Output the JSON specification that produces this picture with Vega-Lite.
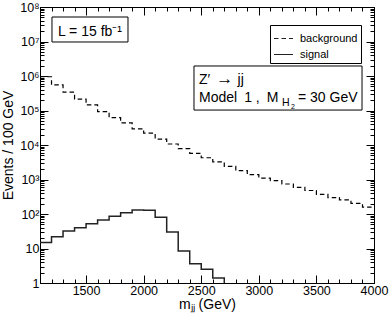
{
  "$schema": "https://vega.github.io/schema/vega-lite/v6.json",
  "width": 334,
  "height": 276,
  "autosize": "none",
  "padding": {"left": 40, "top": 7, "right": 16, "bottom": 39},
  "background": "white",
  "config": {
    "font": "Liberation Sans",
    "view": {"stroke": "#000", "strokeWidth": 1},
    "axis": {"domainColor": "#000", "tickColor": "#000", "labelColor": "#000", "titleColor": "#000", "labelFontSize": 12.5, "titleFontSize": 14, "titleFontWeight": "normal", "grid": false, "labelFlush": false, "labelOverlap": false, "tickWidth": 1}
  },
  "datasets": {
    "hist": [
      {"m": 1100, "events": 950000, "series": "background"},
      {"m": 1200, "events": 550000, "series": "background"},
      {"m": 1300, "events": 339000, "series": "background"},
      {"m": 1400, "events": 214000, "series": "background"},
      {"m": 1500, "events": 145000, "series": "background"},
      {"m": 1600, "events": 93000, "series": "background"},
      {"m": 1700, "events": 62000, "series": "background"},
      {"m": 1800, "events": 44000, "series": "background"},
      {"m": 1900, "events": 29500, "series": "background"},
      {"m": 2000, "events": 22000, "series": "background"},
      {"m": 2100, "events": 14800, "series": "background"},
      {"m": 2200, "events": 10700, "series": "background"},
      {"m": 2300, "events": 7800, "series": "background"},
      {"m": 2400, "events": 5750, "series": "background"},
      {"m": 2500, "events": 4270, "series": "background"},
      {"m": 2600, "events": 3240, "series": "background"},
      {"m": 2700, "events": 2400, "series": "background"},
      {"m": 2800, "events": 1820, "series": "background"},
      {"m": 2900, "events": 1380, "series": "background"},
      {"m": 3000, "events": 1100, "series": "background"},
      {"m": 3100, "events": 930, "series": "background"},
      {"m": 3200, "events": 740, "series": "background"},
      {"m": 3300, "events": 590, "series": "background"},
      {"m": 3400, "events": 480, "series": "background"},
      {"m": 3500, "events": 370, "series": "background"},
      {"m": 3600, "events": 300, "series": "background"},
      {"m": 3700, "events": 257, "series": "background"},
      {"m": 3800, "events": 204, "series": "background"},
      {"m": 3900, "events": 158, "series": "background"},
      {"m": 4000, "events": 158, "series": "background"},
      {"m": 1100, "events": 15, "series": "signal"},
      {"m": 1200, "events": 22, "series": "signal"},
      {"m": 1300, "events": 32, "series": "signal"},
      {"m": 1400, "events": 40, "series": "signal"},
      {"m": 1500, "events": 52, "series": "signal"},
      {"m": 1600, "events": 67, "series": "signal"},
      {"m": 1700, "events": 86, "series": "signal"},
      {"m": 1800, "events": 109, "series": "signal"},
      {"m": 1900, "events": 131, "series": "signal"},
      {"m": 2000, "events": 128, "series": "signal"},
      {"m": 2100, "events": 80, "series": "signal"},
      {"m": 2200, "events": 30, "series": "signal"},
      {"m": 2300, "events": 8.5, "series": "signal"},
      {"m": 2400, "events": 3.6, "series": "signal"},
      {"m": 2500, "events": 2.5, "series": "signal"},
      {"m": 2600, "events": 1.4, "series": "signal"},
      {"m": 2700, "events": 1, "series": "signal"}
    ],
    "boxes": [
      {"x1": 1204, "x2": 1864, "y1": 51300000, "y2": 9680000},
      {"x1": 2437, "x2": 3896, "y1": 1950000, "y2": 103000}
    ],
    "notes": [
      {"id": "big", "text": "L = 15 fb⁻¹", "m": 1256, "events": 14400000},
      {"id": "big", "text": "Z′", "m": 2481, "events": 587000},
      {"id": "arrow", "text": "→", "m": 2630, "events": 587000},
      {"id": "big", "text": "jj", "m": 2815, "events": 587000},
      {"id": "big", "text": "Model\u20021 ,\u2002M", "m": 2481, "events": 176000},
      {"id": "sub", "text": "H", "m": 3201, "events": 135000},
      {"id": "subsub", "text": "2", "m": 3279, "events": 110000},
      {"id": "big", "text": "= 30 GeV", "m": 3340, "events": 176000}
    ]
  },
  "resolve": {"axis": {"x": "independent", "y": "independent"}},
  "layer": [
    {
      "data": {"name": "hist"},
      "transform": [{"filter": "datum.series === 'background'"}],
      "mark": {"type": "line", "interpolate": "step-after", "color": "#000", "strokeWidth": 1.2},
      "encoding": {
        "x": {"field": "m", "type": "quantitative", "scale": {"domain": [1100, 4000], "nice": false, "zero": false},
          "axis": {"orient": "bottom", "values": [1100,1200,1300,1400,1500,1600,1700,1800,1900,2000,2100,2200,2300,2400,2500,2600,2700,2800,2900,3000,3100,3200,3300,3400,3500,3600,3700,3800,3900,4000],
            "format": "d", "labelExpr": "datum.value % 500 === 0 ? datum.label : ''",
            "tickSize": {"condition": {"test": "datum.value % 500 === 0", "value": -8}, "value": -4},
            "labelPadding": 9, "title": "mⱼⱼ (GeV)", "titlePadding": -3}},
        "y": {"field": "events", "type": "quantitative", "scale": {"type": "log", "domain": [1, 100000000], "nice": false},
          "axis": {"orient": "left", "values": [1,2,3,4,5,6,7,8,9,10,20,30,40,50,60,70,80,90,100,200,300,400,500,600,700,800,900,1000,2000,3000,4000,5000,6000,7000,8000,9000,10000,20000,30000,40000,50000,60000,70000,80000,90000,100000,200000,300000,400000,500000,600000,700000,800000,900000,1000000,2000000,3000000,4000000,5000000,6000000,7000000,8000000,9000000,10000000,20000000,30000000,40000000,50000000,60000000,70000000,80000000,90000000,100000000],
            "labelExpr": "abs(log(datum.value)/LN10 - round(log(datum.value)/LN10)) < 1e-6 ? (datum.value < 1.5 ? '1' : datum.value < 15 ? '10' : '10' + ['⁰','¹','²','³','⁴','⁵','⁶','⁷','⁸'][round(log(datum.value)/LN10)]) : ''",
            "tickSize": {"condition": {"test": "abs(log(datum.value)/LN10 - round(log(datum.value)/LN10)) < 1e-6", "value": -8}, "value": -4},
            "labelPadding": 9, "title": "Events / 100 GeV", "titlePadding": 4}},
        "strokeDash": {"field": "series", "type": "nominal", "scale": {"domain": ["background", "signal"], "range": [[4.5, 3], [1, 0]]},
          "legend": {"title": null, "orient": "none", "legendX": 230, "legendY": 18, "padding": 3, "strokeColor": "#000", "fillColor": "white", "cornerRadius": 0, "symbolType": "stroke", "symbolSize": 361, "symbolStrokeColor": "#000", "symbolStrokeWidth": 1.2, "labelFontSize": 11, "labelColor": "#000", "labelOffset": 6, "rowPadding": -9}}
      }
    },
    {
      "data": {"name": "hist"},
      "transform": [{"filter": "datum.series === 'signal'"}],
      "mark": {"type": "line", "interpolate": "step-after", "color": "#222", "strokeWidth": 1.5},
      "encoding": {
        "x": {"field": "m", "type": "quantitative", "scale": {"domain": [1100, 4000], "nice": false, "zero": false},
          "axis": {"orient": "top", "values": [1100,1200,1300,1400,1500,1600,1700,1800,1900,2000,2100,2200,2300,2400,2500,2600,2700,2800,2900,3000,3100,3200,3300,3400,3500,3600,3700,3800,3900,4000],
            "labels": false, "title": null,
            "tickSize": {"condition": {"test": "datum.value % 500 === 0", "value": -8}, "value": -4}}},
        "y": {"field": "events", "type": "quantitative", "scale": {"type": "log", "domain": [1, 100000000], "nice": false},
          "axis": {"orient": "right", "values": [1,2,3,4,5,6,7,8,9,10,20,30,40,50,60,70,80,90,100,200,300,400,500,600,700,800,900,1000,2000,3000,4000,5000,6000,7000,8000,9000,10000,20000,30000,40000,50000,60000,70000,80000,90000,100000,200000,300000,400000,500000,600000,700000,800000,900000,1000000,2000000,3000000,4000000,5000000,6000000,7000000,8000000,9000000,10000000,20000000,30000000,40000000,50000000,60000000,70000000,80000000,90000000,100000000],
            "labels": false, "title": null,
            "tickSize": {"condition": {"test": "abs(log(datum.value)/LN10 - round(log(datum.value)/LN10)) < 1e-6", "value": -8}, "value": -4}}},
        "strokeDash": {"field": "series", "type": "nominal", "scale": {"domain": ["background", "signal"], "range": [[4.5, 3], [1, 0]]}}
      }
    },
    {
      "data": {"name": "boxes"},
      "mark": {"type": "rect", "fill": "white", "stroke": "#000", "strokeWidth": 1},
      "encoding": {
        "x": {"field": "x1", "type": "quantitative", "axis": null},
        "x2": {"field": "x2"},
        "y": {"field": "y1", "type": "quantitative", "axis": null},
        "y2": {"field": "y2"}
      }
    },
    {
      "data": {"name": "notes"},
      "transform": [{"filter": "datum.id === 'big'"}],
      "mark": {"type": "text", "align": "left", "baseline": "alphabetic", "fontSize": 14, "fill": "#000"},
      "encoding": {
        "x": {"field": "m", "type": "quantitative", "axis": null},
        "y": {"field": "events", "type": "quantitative", "axis": null},
        "text": {"field": "text"}
      }
    },
    {
      "data": {"name": "notes"},
      "transform": [{"filter": "datum.id === 'arrow'"}],
      "mark": {"type": "text", "align": "left", "baseline": "alphabetic", "fontSize": 17, "fill": "#000"},
      "encoding": {
        "x": {"field": "m", "type": "quantitative", "axis": null},
        "y": {"field": "events", "type": "quantitative", "axis": null},
        "text": {"field": "text"}
      }
    },
    {
      "data": {"name": "notes"},
      "transform": [{"filter": "datum.id === 'sub'"}],
      "mark": {"type": "text", "align": "left", "baseline": "alphabetic", "fontSize": 10.5, "fill": "#000"},
      "encoding": {
        "x": {"field": "m", "type": "quantitative", "axis": null},
        "y": {"field": "events", "type": "quantitative", "axis": null},
        "text": {"field": "text"}
      }
    },
    {
      "data": {"name": "notes"},
      "transform": [{"filter": "datum.id === 'subsub'"}],
      "mark": {"type": "text", "align": "left", "baseline": "alphabetic", "fontSize": 7, "fill": "#000"},
      "encoding": {
        "x": {"field": "m", "type": "quantitative", "axis": null},
        "y": {"field": "events", "type": "quantitative", "axis": null},
        "text": {"field": "text"}
      }
    }
  ]
}
